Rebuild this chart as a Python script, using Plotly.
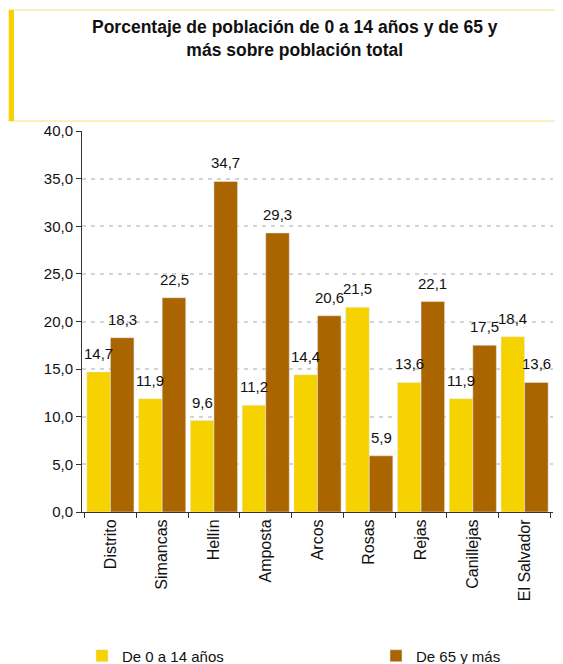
import plotly.graph_objects as go

categories = ["Distrito", "Simancas", "Hellín", "Amposta", "Arcos", "Rosas", "Rejas", "Canillejas", "El Salvador"]
young = [14.7, 11.9, 9.6, 11.2, 14.4, 21.5, 13.6, 11.9, 18.4]
old = [18.3, 22.5, 34.7, 29.3, 20.6, 5.9, 22.1, 17.5, 13.6]
series_names = ["De 0 a 14 años", "De 65 y más"]
title_text = "Porcentaje de población de 0 a 14 años y de 65 y<br>más sobre población total"

OFF = 8  # page body margin
W, H = 563 - OFF, 664 - OFF
# plot area in page pixels: x 82..553, y 131..512
L = 82 - OFF
T = 131 - OFF
R = W - (553 - OFF)
B = H - (512 - OFF)
pw, ph = W - L - R, H - T - B

def px_x(p):
    return (p - OFF - L) / pw

def px_y(p):
    return (H - B - (p - OFF)) / ph

YEL = "#F5D200"
BRN = "#AA6500"
BARGAP = 0.09

fig = go.Figure()
fig.add_trace(go.Bar(x=categories, y=young, name=series_names[0], marker_color=YEL,
                     legend="legend"))
fig.add_trace(go.Bar(x=categories, y=old, name=series_names[1], marker_color=BRN,
                     legend="legend2"))

# value labels above bars
cat_w = pw / len(categories)
bar_w = cat_w * (1 - BARGAP) / 2
for vals, sh in ((young, -bar_w / 2), (old, bar_w / 2)):
    for c, v in zip(categories, vals):
        fig.add_annotation(x=c, y=v, xref="x", yref="y", text=f"{v:.1f}".replace(".", ","),
                           showarrow=False, xanchor="center", yanchor="bottom",
                           xshift=sh, yshift=8, font=dict(size=15, color="#111"))

leg_common = dict(orientation="h", yanchor="middle", font=dict(size=15, color="#111"),
                  bgcolor="rgba(0,0,0,0)")
fig.update_layout(
    width=W, height=H,
    margin=dict(l=L, r=R, t=T, b=B, autoexpand=False),
    paper_bgcolor="white", plot_bgcolor="white",
    separators=",.",
    barmode="group", bargap=BARGAP, bargroupgap=0,
    font=dict(family="Liberation Sans, Arial, sans-serif", color="#111"),
    showlegend=True,
    legend=dict(x=px_x(96 - 14), xanchor="left", y=px_y(656), **leg_common),
    legend2=dict(x=px_x(390 - 14), xanchor="left", y=px_y(656), **leg_common),
)
fig.update_yaxes(range=[0, 40], dtick=5, tickformat=".1f", showline=True, linecolor="#333",
                 linewidth=1, ticks="outside", ticklen=5, tickcolor="#333",
                 tickfont=dict(size=15, color="#111"),
                 showgrid=True, gridcolor="#d4d4d4", gridwidth=2, griddash="4px,5px",
                 zeroline=False)
fig.update_xaxes(showline=True, linecolor="#333", linewidth=1, ticks="outside", ticklen=5,
                 tickcolor="#333", tickson="boundaries", tickangle=-90,
                 tickfont=dict(size=16, color="#111"), showgrid=False)

# header box
fig.add_shape(type="rect", xref="paper", yref="paper",
              x0=px_x(9), x1=px_x(563), y0=px_y(121), y1=px_y(10),
              line=dict(color="#F5E27A", width=1), fillcolor="white", layer="below")
fig.add_shape(type="rect", xref="paper", yref="paper",
              x0=px_x(9), x1=px_x(14), y0=px_y(121), y1=px_y(10),
              line=dict(width=0), fillcolor=YEL)
fig.add_annotation(text="<b>" + title_text + "</b>", xref="paper", yref="paper",
                   x=px_x(295), y=px_y(38), xanchor="center", yanchor="middle",
                   showarrow=False, font=dict(size=17.5, color="#111"), align="center")

fig.write_html("out.html")
